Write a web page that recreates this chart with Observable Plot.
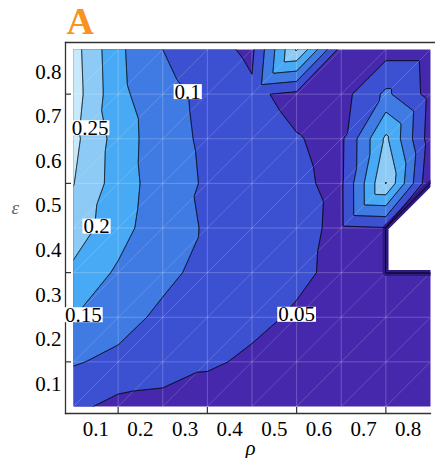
<!DOCTYPE html>
<html>
<head>
<meta charset="utf-8">
<script src="https://cdn.jsdelivr.net/npm/d3@7"></script>
<script src="https://cdn.jsdelivr.net/npm/@observablehq/plot@0.6"></script>
<style>
  body { margin: 0; background: #fff; }
  #chart svg { display: block; }
  #chart svg, #chart svg text { font-family: "Liberation Serif", "DejaVu Serif", serif !important; }
</style>
</head>
<body>
<div id="chart"></div>
<script>
// Grid coordinates
const rho = [0.05, 0.15, 0.25, 0.35, 0.45, 0.55, 0.65, 0.75, 0.85];
const eps = [0.05, 0.15, 0.25, 0.35, 0.45, 0.55, 0.65, 0.75, 0.85];
// values[j][i] : eps[j], rho[i]   (null = missing)
const row005 = [0.062, 0.035, 0.030, 0.028, 0.027, 0.027, 0.027, 0.028, 0.028];
const row015 = [0.104, 0.089, 0.078, 0.056, 0.043, 0.035, 0.030, 0.030, 0.030];
const row025 = [0.151, 0.118, 0.090, 0.075, 0.060, 0.045, 0.035, 0.030, 0.030];
const row035 = [0.190, 0.142, 0.112, 0.085, 0.072, 0.058, 0.040, 0.035, 0.030];
const row045 = [0.225, 0.172, 0.113, 0.097, 0.082, 0.062, 0.041, 0.048, null];
const row055 = [0.2515, 0.177, 0.122, 0.0945, 0.078, 0.056, 0.042, 0.252, 0.005];
const row065 = [0.263, 0.179, 0.117, 0.092, 0.070, 0.052, 0.040, 0.210, 0.025];
const row075 = [0.274, 0.163, 0.115, 0.089, 0.058, 0.038, 0.030, 0.110, 0.033];
const row085 = [0.270, 0.160, 0.100, 0.068, 0.040, 0.255, 0.030, 0.030, 0.030];
const values = [row005, row015, row025, row035, row045, row055, row065, row075, row085];

const levels = [0.05, 0.1, 0.15, 0.2, 0.25];
const levelColors = ["#4628AD", "#3C50D2", "#3F7BE3", "#48AAF4", "#8DCBF6", "#C8E9FC"];
const tickLabels = [0.1, 0.2, 0.3, 0.4, 0.5, 0.6, 0.7, 0.8];
const tickMarks = [0.15, 0.35, 0.55, 0.75];
const contourLabels = ["0.25", "0.2", "0.15", "0.1", "0.05"];
const labelRho = [0.087, 0.1016, 0.072, 0.306, 0.55];
const labelEps = [0.674, 0.4536, 0.255, 0.755, 0.256];

const n = rho.length;
const dr = rho[1] - rho[0], de = eps[1] - eps[0];

// piecewise-linear surface on the triangulated grid ("/" diagonals)
function surface(x, y) {
  const u = Math.max(0, Math.min(n - 1, (x - rho[0]) / dr));
  const v = Math.max(0, Math.min(n - 1, (y - eps[0]) / de));
  const i = Math.min(n - 2, Math.floor(u)), j = Math.min(n - 2, Math.floor(v));
  const fu = u - i, fv = v - j;
  const a = values[j][i], b = values[j][i + 1], c = values[j + 1][i], d = values[j + 1][i + 1];
  if (fu >= fv) {
    if (a == null || b == null || d == null) return NaN;
    return a + fu * (b - a) + fv * (d - b);
  } else {
    if (a == null || c == null || d == null) return NaN;
    return a + fv * (c - a) + fu * (d - c);
  }
}

// mesh diagonals
const diagonals = [];
for (let k = -(n - 2); k <= n - 2; ++k) {
  diagonals.push({
    x1: rho[Math.max(0, k)], y1: eps[Math.max(0, -k)],
    x2: rho[Math.min(n - 1, n - 1 + k)], y2: eps[Math.min(n - 1, n - 1 - k)]
  });
}

const W = 435, H = 458;
const mL = 65, mR = 0, mT = 42, mB = 45;
const frameW = W - mL - mR, frameH = H - mT - mB;
const axisColor = "#333";
const serif = "'Liberation Serif', 'DejaVu Serif', serif";
const ext = 0.05;

const chart = Plot.plot({
  width: W, height: H,
  marginLeft: mL, marginRight: mR, marginTop: mT, marginBottom: mB,
  insetLeft: 8, insetRight: 5, insetTop: 7, insetBottom: 7,
  style: { fontFamily: serif, fontSize: "21px", background: "white", color: "black" },
  x: { domain: [rho[0], rho[n - 1]] },
  y: { domain: [eps[0], eps[n - 1]] },
  color: { type: "threshold", domain: levels, range: levelColors },
  marks: [
    Plot.contour({
      fill: surface,
      x1: rho[0], x2: rho[n - 1], y1: eps[0], y2: eps[n - 1],
      thresholds: [0, ...levels],
      stroke: "none",
      pixelSize: 0.5
    }),
    Plot.ruleX(rho.slice(1, -1), { y1: eps[0], y2: eps[n - 1], stroke: "white", strokeOpacity: 0.22, strokeWidth: 1 }),
    Plot.ruleY(eps.slice(1, -1), { x1: rho[0], x2: rho[n - 1], stroke: "white", strokeOpacity: 0.22, strokeWidth: 1 }),
    Plot.link(diagonals, { x1: "x1", y1: "y1", x2: "x2", y2: "y2", stroke: "white", strokeOpacity: 0.22, strokeWidth: 0.8 }),
    // border of the missing-data hole
    Plot.contour({
      value: surface,
      x1: rho[0] - ext, x2: rho[n - 1] + ext, y1: eps[0] - ext, y2: eps[n - 1] + ext,
      thresholds: [0],
      fill: "none", stroke: "#2E1A80", strokeWidth: 6,
      pixelSize: 0.5,
      className: "clines"
    }),
    Plot.contour({
      value: surface,
      x1: rho[0] - ext, x2: rho[n - 1] + ext, y1: eps[0] - ext, y2: eps[n - 1] + ext,
      thresholds: [0, ...levels],
      fill: "none", stroke: "black", strokeWidth: 1,
      pixelSize: 0.5,
      className: "clines"
    }),
    Plot.frame({ anchor: "left", stroke: axisColor, strokeWidth: 1.3 }),
    Plot.frame({ anchor: "top", stroke: axisColor, strokeWidth: 1.3 }),
    Plot.frame({ anchor: "bottom", stroke: axisColor, strokeWidth: 1.3, insetRight: 5 }),
    Plot.tickY(tickMarks, { insetRight: frameW - 6, stroke: axisColor, strokeWidth: 1.2 }),
    Plot.tickX(tickMarks, { insetTop: frameH - 6, stroke: axisColor, strokeWidth: 1.2 }),
    Plot.axisX(tickLabels, { tickSize: 0, tickPadding: 8, fontSize: 21, fontFamily: serif, label: null }),
    Plot.axisY(tickLabels, { tickSize: 0, tickPadding: 4, fontSize: 21, fontFamily: serif, label: null }),
    Plot.text(contourLabels, {
      x: (d, i) => labelRho[i], y: (d, i) => labelEps[i], text: d => d,
      fontSize: 21, fontFamily: serif, fill: "black", className: "clabels"
    }),
    Plot.text(["A"], {
      frameAnchor: "top-left", dx: 1, dy: -9, lineAnchor: "bottom", textAnchor: "start",
      fontSize: 38, fontWeight: "bold", fontFamily: serif, fill: "#F7931E"
    }),
    Plot.text(["ρ"], {
      frameAnchor: "bottom", dy: 41, lineAnchor: "bottom", fontSize: 21, fontStyle: "italic", fontFamily: serif
    }),
    Plot.text(["ε"], {
      frameAnchor: "left", dx: -54, dy: -20, fontSize: 19, fontStyle: "italic", fontFamily: serif, fill: "#666"
    })
  ]
});

document.getElementById("chart").appendChild(chart);

// clip contour lines to the data rectangle
const sx = chart.scale("x"), sy = chart.scale("y");
const x0 = sx.apply(rho[0]), x1 = sx.apply(rho[n - 1]);
const y0 = sy.apply(eps[n - 1]), y1 = sy.apply(eps[0]);
const svg = d3.select(chart);
const defs = svg.insert("defs", ":first-child");
defs.append("clipPath").attr("id", "dataclip")
  .append("rect").attr("x", x0).attr("y", y0).attr("width", x1 - x0).attr("height", y1 - y0);
svg.selectAll("g.clines").attr("clip-path", "url(#dataclip)");

// white boxes behind contour labels
svg.selectAll("g.clabels text").each(function () {
  const bb = this.getBBox();
  const r = document.createElementNS("http://www.w3.org/2000/svg", "rect");
  r.setAttribute("x", bb.x - 1);
  r.setAttribute("y", bb.y + bb.height / 2 - 7.5);
  r.setAttribute("width", bb.width + 2);
  r.setAttribute("height", 15);
  r.setAttribute("fill", "white");
  const t = this.getAttribute("transform");
  if (t) r.setAttribute("transform", t);
  this.parentNode.insertBefore(r, this);
});
</script>
</body>
</html>
